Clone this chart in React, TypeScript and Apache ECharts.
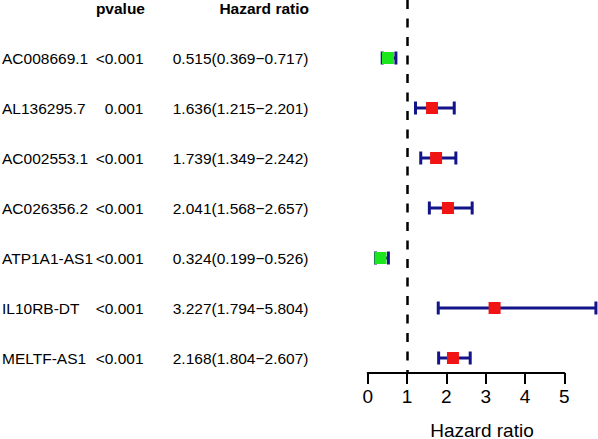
import React, { useEffect, useRef } from "react";
import * as echarts from "echarts";

const genes = ["AC008669.1", "AL136295.7", "AC002553.1", "AC026356.2", "ATP1A1-AS1", "IL10RB-DT", "MELTF-AS1"];
const pvalues = ["<0.001", "0.001", "<0.001", "<0.001", "<0.001", "<0.001", "<0.001"];
const hr = [0.515, 1.636, 1.739, 2.041, 0.324, 3.227, 2.168];
const hrLow = [0.369, 1.215, 1.349, 1.568, 0.199, 1.794, 1.804];
const hrHigh = [0.717, 2.201, 2.242, 2.657, 0.526, 5.804, 2.607];
const xTicks = [0, 1, 2, 3, 4, 5];
const headers = ["pvalue", "Hazard ratio"];
const axisTitle = "Hazard ratio";

const FONT = "'Liberation Sans', Arial, sans-serif";
const NAVY = "#14148a";
const RED = "#f01414";
const GREEN = "#1ee61e";

export default function App() {
  const ref = useRef<HTMLDivElement>(null);
  useEffect(() => {
    if (!ref.current) return;
    const chart = echarts.init(ref.current, undefined, { renderer: "svg" });
    const hrText = hr.map((v, i) => `${v.toFixed(3)}(${hrLow[i].toFixed(3)}\u2212${hrHigh[i].toFixed(3)})`);
    const tableData = genes.map((_, i) => [0, i]);
    tableData.unshift([0, -1]);
    chart.setOption({
      animation: false,
      backgroundColor: "#ffffff",
      grid: { left: 367.7, right: 33.7, top: 0, bottom: 66 },
      xAxis: {
        type: "value",
        position: "bottom",
        min: xTicks[0],
        max: xTicks[xTicks.length - 1],
        interval: 1,
        axisLine: { show: true, onZero: false, lineStyle: { color: "#000", width: 2 } },
        axisTick: { show: true, length: 11, lineStyle: { color: "#000", width: 2 } },
        axisLabel: { color: "#000", fontSize: 19, fontFamily: FONT, margin: 14 },
        splitLine: { show: false },
      },
      yAxis: {
        type: "value",
        inverse: true,
        min: -1.16,
        max: 6.3,
        show: false,
      },
      graphic: [
        {
          type: "text",
          x: 482,
          y: 430,
          style: {
            text: axisTitle,
            fontSize: 19,
            fontFamily: FONT,
            fill: "#000",
            align: "center",
            verticalAlign: "middle",
          },
        },
      ],
      series: [
        {
          type: "custom",
          clip: false,
          silent: true,
          data: tableData,
          encode: { x: 0, y: 1 },
          renderItem: (params: any, api: any) => {
            const idx = api.value(1);
            const y = api.coord([0, idx])[1];
            const base = { fontFamily: FONT, fontSize: 15.5, fill: "#000", verticalAlign: "middle" };
            if (idx < 0) {
              return {
                type: "group",
                children: [
                  { type: "text", x: 145, y, style: { ...base, text: headers[0], fontWeight: "bold", align: "right" } },
                  { type: "text", x: 309, y, style: { ...base, text: headers[1], fontWeight: "bold", align: "right" } },
                ],
              };
            }
            return {
              type: "group",
              children: [
                { type: "text", x: 2, y, style: { ...base, text: genes[idx], align: "left" } },
                { type: "text", x: 143.5, y, style: { ...base, text: pvalues[idx], align: "right" } },
                { type: "text", x: 308.5, y, style: { ...base, text: hrText[idx], align: "right" } },
              ],
            };
          },
        },
        {
          type: "custom",
          clip: false,
          silent: true,
          data: genes.map((_, i) => [i, hrLow[i], hr[i], hrHigh[i]]),
          encode: { x: [1, 2, 3], y: 0 },
          renderItem: (params: any, api: any) => {
            const i = api.value(0);
            const lo = api.value(1);
            const h = api.value(2);
            const hi = api.value(3);
            const pLo = api.coord([lo, i]);
            const pHi = api.coord([hi, i]);
            const pH = api.coord([h, i]);
            const color = h >= 1 ? RED : GREEN;
            const cap = 6.5;
            return {
              type: "group",
              children: [
                { type: "line", shape: { x1: pLo[0], y1: pLo[1], x2: pHi[0], y2: pHi[1] }, style: { stroke: NAVY, lineWidth: 3 } },
                { type: "line", shape: { x1: pLo[0], y1: pLo[1] - cap, x2: pLo[0], y2: pLo[1] + cap }, style: { stroke: NAVY, lineWidth: 3 } },
                { type: "line", shape: { x1: pHi[0], y1: pHi[1] - cap, x2: pHi[0], y2: pHi[1] + cap }, style: { stroke: NAVY, lineWidth: 3 } },
                { type: "rect", shape: { x: pH[0] - 6, y: pH[1] - 6, width: 12, height: 12 }, style: { fill: color } },
              ],
            };
          },
          markLine: {
            silent: true,
            symbol: "none",
            label: { show: false },
            lineStyle: { color: "#000", width: 2.5, type: [9, 9.5] },
            data: [{ xAxis: 1 }],
          },
        },
      ],
    });
    return () => chart.dispose();
  }, []);
  return <div ref={ref} style={{ position: "fixed", left: 0, top: 0, width: 598, height: 439 }} />;
}
